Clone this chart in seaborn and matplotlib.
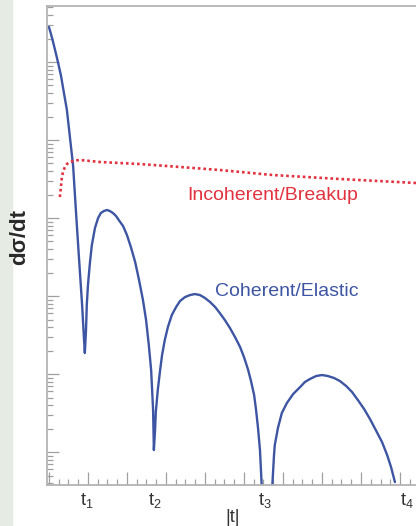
import matplotlib
matplotlib.use("Agg")
import matplotlib.pyplot as plt
import matplotlib.ticker as mticker
from matplotlib.patches import Rectangle
from matplotlib.transforms import blended_transform_factory
import numpy as np
import pandas as pd
import seaborn as sns

# ---- data ----
coh_t = [0.000, 0.008, 0.015, 0.023, 0.031, 0.038, 0.046, 0.054, 0.062, 0.069,
         0.077, 0.085, 0.090, 0.092,
         0.095, 0.097, 0.100, 0.105, 0.110, 0.118, 0.126, 0.133, 0.141, 0.149,
         0.156, 0.164, 0.172, 0.179, 0.190, 0.200, 0.210, 0.221, 0.231, 0.241,
         0.249, 0.256, 0.262, 0.267, 0.269,
         0.272, 0.274, 0.279, 0.285, 0.290, 0.297, 0.305, 0.315, 0.326, 0.336,
         0.349, 0.362, 0.374, 0.387, 0.400, 0.413, 0.426, 0.438, 0.451, 0.464,
         0.477, 0.490, 0.500, 0.510, 0.518, 0.526, 0.531, 0.536, 0.541, 0.546,
         0.559, 0.572,
         0.577, 0.579, 0.587, 0.597, 0.610, 0.626, 0.644, 0.656, 0.669, 0.685,
         0.700, 0.715, 0.731, 0.746, 0.762, 0.777, 0.792, 0.808, 0.823, 0.838,
         0.854, 0.867, 0.877, 0.887]
coh_val = [2.81e5, 2.03e5, 1.47e5, 1.0e5, 6.62e4, 4.12e4, 2.43e4, 1.06e4, 4.64e3, 1.27e3,
           307, 76.7, 27.3, 18.6,
           36.6, 76.7, 138, 265, 451, 745, 1000, 1159, 1230, 1267,
           1230, 1159, 1061, 942, 789, 605, 425, 273, 160, 88.9,
           49.2, 23.5, 11.2, 3.45, 1.06,
           1.91, 3.26, 6.24, 11.2, 17.5, 27.3, 40.1, 57.1, 72.3, 86.3,
           97.1, 103, 106, 103, 94.3, 83.8, 72.3, 60.5, 49.2, 38.9,
           29.8, 22.2, 16.5, 11.6, 8.13, 5.38, 3.45, 2.03, 1.06, 0.326,
           0.02, 0.326,
           0.916, 1.23, 2.03, 3.16, 4.25, 5.54, 6.81, 7.89, 8.63, 9.43,
           9.71, 9.43, 8.89, 8.13, 7.02, 5.88, 4.64, 3.56, 2.65, 1.91,
           1.34, 0.916, 0.642, 0.412]

inc_t = [0.028, 0.031, 0.033, 0.036, 0.041, 0.046, 0.054, 0.067, 0.079,
         0.131, 0.233, 0.336, 0.438, 0.574, 0.746, 0.941]
inc_val = [1858, 2570, 3258, 3890, 4508, 4920, 5224, 5458, 5546,
           5224, 4920, 4508, 4121, 3556, 3162, 2812]

t_label_pos = [0.097, 0.272, 0.554, 0.918]
t_labels = [r"$\mathregular{t_1}$", r"$\mathregular{t_2}$",
            r"$\mathregular{t_3}$", r"$\mathregular{t_4}$"]

coh_df = pd.DataFrame({"t": coh_t, "v": coh_val})
inc_df = pd.DataFrame({"t": inc_t, "v": inc_val})

# ---- style ----
sns.set_style("white")
plt.rcParams["font.family"] = ["Liberation Sans", "DejaVu Sans"]
plt.rcParams["mathtext.fontset"] = "custom"
plt.rcParams["mathtext.rm"] = "Liberation Sans"

BLUE = "#3d55a3"
RED = "#e2323f"
GRAY = "#a0a0a0"

fig = plt.figure(figsize=(4.16, 5.26), dpi=100)
fig.patches.append(Rectangle((0, 0), 12 / 416, 1, transform=fig.transFigure,
                             color="#e6ebe4", zorder=0))
ax = fig.add_axes([47 / 416, 1 - 485 / 526, (416 - 47) / 416, (485 - 6) / 526])
ax.set_facecolor("white")

sns.lineplot(data=coh_df, x="t", y="v", sort=False, estimator=None,
             color=BLUE, lw=1.7, ax=ax)
sns.lineplot(data=inc_df, x="t", y="v", sort=False, estimator=None,
             color=RED, lw=1.9, ax=ax)
ax.lines[0].set_solid_joinstyle("round")
ax.lines[-1].set_linestyle((0, (1.0, 1.1)))

ax.set_yscale("log")
ax.set_xlim(-0.005, 0.941)
ax.set_ylim(0.378, 5.22e5)

ax.xaxis.set_major_locator(mticker.MultipleLocator(0.1))
ax.xaxis.set_minor_locator(mticker.MultipleLocator(0.025))
ax.yaxis.set_major_locator(mticker.LogLocator(base=10, numticks=20))
ax.yaxis.set_minor_locator(mticker.LogLocator(base=10, subs=np.arange(2, 10), numticks=20))
ax.xaxis.set_major_formatter(mticker.NullFormatter())
ax.yaxis.set_major_formatter(mticker.NullFormatter())
ax.yaxis.set_minor_formatter(mticker.NullFormatter())

ax.tick_params(axis="x", which="major", direction="in", length=9.5, width=0.9,
               color=GRAY, bottom=True, top=False)
ax.tick_params(axis="x", which="minor", direction="in", length=4.3, width=0.9,
               color=GRAY, bottom=True, top=False)
ax.tick_params(axis="y", which="major", direction="in", length=8.6, width=0.9,
               color=GRAY, left=True, right=False)
ax.tick_params(axis="y", which="minor", direction="in", length=4.3, width=0.9,
               color=GRAY, left=True, right=False)

for side in ["top", "left", "bottom"]:
    ax.spines[side].set_color("#b4b4b4")
    ax.spines[side].set_linewidth(1.3)
ax.spines["right"].set_visible(False)
ax.set_xlabel("")
ax.set_ylabel("")

trans = blended_transform_factory(ax.transData, ax.transAxes)
for pos, lab in zip(t_label_pos, t_labels):
    ax.text(pos, -0.012, lab, transform=trans, ha="center", va="top",
            fontsize=13, color="#333333", clip_on=False)

fig.text(273 / 416, 1 - 195 / 526, "Incoherent/Breakup", ha="center",
         va="center", fontsize=14, color=RED)
fig.text(287 / 416, 1 - 291 / 526, "Coherent/Elastic", ha="center",
         va="center", fontsize=14, color=BLUE)

fig.text(20 / 416, 1 - 237 / 526, "dσ/dt", rotation=90, ha="center",
         va="center", fontsize=16, fontweight="bold", color="#2a2a2a")
fig.text(233 / 416, 1 - 509 / 526, "|t|", ha="center", va="top",
         fontsize=13, color="#333333")

fig.savefig("out.png", dpi=100)
